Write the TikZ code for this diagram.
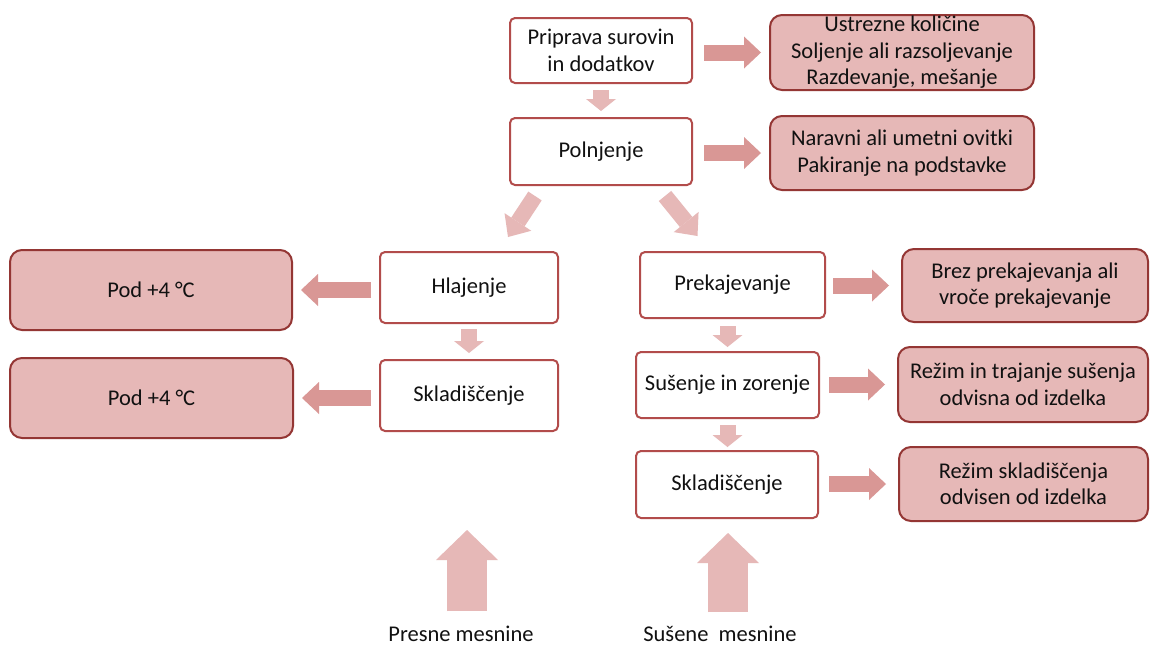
\documentclass[tikz,border=0pt]{standalone}
\usepackage{fontspec}
\setmainfont{Carlito}
\usetikzlibrary{arrows.meta,calc}
\definecolor{boxline}{HTML}{B24C4B}
\definecolor{pinkfill}{HTML}{E6B8B7}
\definecolor{pinkline}{HTML}{943634}
\definecolor{arrowlight}{HTML}{E6B8B7}
\definecolor{arrowdark}{HTML}{D99795}
\definecolor{ink}{HTML}{111111}

\begin{document}
\begin{tikzpicture}[x=1pt,y=-1pt,
  txt/.style={font=\fontsize{22.5}{26.5}\selectfont, text=ink, align=center},
  stepbox/.style={txt, draw=boxline, line width=2pt, fill=white,
    rounded corners=5pt, inner sep=0pt},
  notebox/.style={txt, draw=pinkline, line width=2pt, fill=pinkfill,
    rounded corners=12pt, inner sep=0pt},
  harr/.style={draw=arrowdark, line width=16pt,
    -{Triangle[length=17pt,width=32pt,line width=0pt]}},
  varr/.style={draw=arrowlight, line width=16pt,
    -{Triangle[length=12pt,width=30pt,line width=0pt]}},
  darr/.style={draw=arrowlight, line width=16pt,
    -{Triangle[length=18pt,width=32pt,line width=0pt]}},
  bigarr/.style={draw=arrowlight, line width=40pt,
    -{Triangle[length=30pt,width=62pt,line width=0pt]}},
]
\fill[white] (0,0) rectangle (1150,646);
\useasboundingbox (0,0) rectangle (1150,646);

% main process steps
\node[stepbox, minimum width=182pt, minimum height=65pt] (prip) at (601,50.5) {Priprava surovin\\in dodatkov};
\node[stepbox, minimum width=182pt, minimum height=67pt] (poln) at (601,151.5) {Polnjenje};
\node[stepbox, minimum width=178pt, minimum height=71pt] (hlaj) at (469,287.5) {Hlajenje};
\node[stepbox, minimum width=178pt, minimum height=71pt] (sklA) at (469,395.5) {Skladiščenje};
\node[stepbox, minimum width=185pt, minimum height=66pt] (prek) at (732.5,285) {Prekajevanje};
\node[stepbox, minimum width=183pt, minimum height=66pt] (suse) at (727.5,385) {Sušenje in zorenje};
\node[stepbox, minimum width=182pt, minimum height=67pt] (sklB) at (727,484.5) {Skladiščenje};

% notes on each step
\node[notebox, minimum width=264pt, minimum height=75pt] (ustr) at (902,52.5) {Ustrezne količine\\Soljenje ali razsoljevanje\\Razdevanje, mešanje};
\node[notebox, minimum width=264pt, minimum height=74pt] (nara) at (902,153) {Naravni ali umetni ovitki\\Pakiranje na podstavke};
\node[notebox, minimum width=282pt, minimum height=80pt] (podA) at (151,290) {Pod +4 °C};
\node[notebox, minimum width=283pt, minimum height=80pt] (podB) at (151.5,398) {Pod +4 °C};
\node[notebox, minimum width=246pt, minimum height=73pt] (brez) at (1025,285.5) {Brez prekajevanja ali\\vroče prekajevanje};
\node[notebox, minimum width=250pt, minimum height=75pt] (rezA) at (1023,384.5) {Režim in trajanje sušenja\\odvisna od izdelka};
\node[notebox, minimum width=249pt, minimum height=74pt] (rezB) at (1023.5,484) {Režim skladiščenja\\odvisen od izdelka};

% product lines
\node[txt, inner sep=0pt] (pres) at (461,634) {Presne mesnine};
\node[txt, inner sep=0pt] (suhe) at (720,634) {Sušene\ \ mesnine};
\coordinate (presTail) at (467,611);
\coordinate (presTip) at (467,530);
\coordinate (suheTail) at (728,612);
\coordinate (suheTip) at (728,533);

% arrows towards the notes
\draw[harr] ([xshift=11pt]prip.east |- ustr.west) -- ([xshift=-8pt]ustr.west);
\draw[harr] ([xshift=11pt]poln.east |- nara.west) -- ([xshift=-8pt]nara.west);
\draw[harr] ([xshift=-8pt]hlaj.west |- podA.east) -- ([xshift=8pt]podA.east);
\draw[harr] ([xshift=-8pt]sklA.west |- podB.east) -- ([xshift=8pt]podB.east);
\draw[harr] ([xshift=7pt]prek.east |- brez.west) -- ([xshift=-12pt]brez.west);
\draw[harr] ([xshift=9pt]suse.east |- rezA.west) -- ([xshift=-12pt]rezA.west);
\draw[harr] ([xshift=10pt]sklB.east |- rezB.west) -- ([xshift=-12pt]rezB.west);

% flow between steps
\draw[varr] ([yshift=-6pt]prip.south) -- ([yshift=6pt]poln.north);
\draw[varr] ([yshift=-5pt]hlaj.south) -- ([yshift=6pt]sklA.north);
\draw[varr] ([yshift=-7pt]prek.south -| suse.north) -- ([yshift=4pt]suse.north);
\draw[varr] ([yshift=-6pt]suse.south) -- ([yshift=3pt]sklB.north -| suse.south);
\draw[darr] ([xshift=-66pt,yshift=-10pt]poln.south) -- ([xshift=39pt,yshift=14pt]hlaj.north);
\draw[darr] ([xshift=64pt,yshift=-10pt]poln.south) -- ([xshift=-35pt,yshift=15pt]prek.north);

% raw material inputs
\draw[bigarr] (presTail) -- (presTip);
\draw[bigarr] (suheTail) -- (suheTip);
\end{tikzpicture}
\end{document}
